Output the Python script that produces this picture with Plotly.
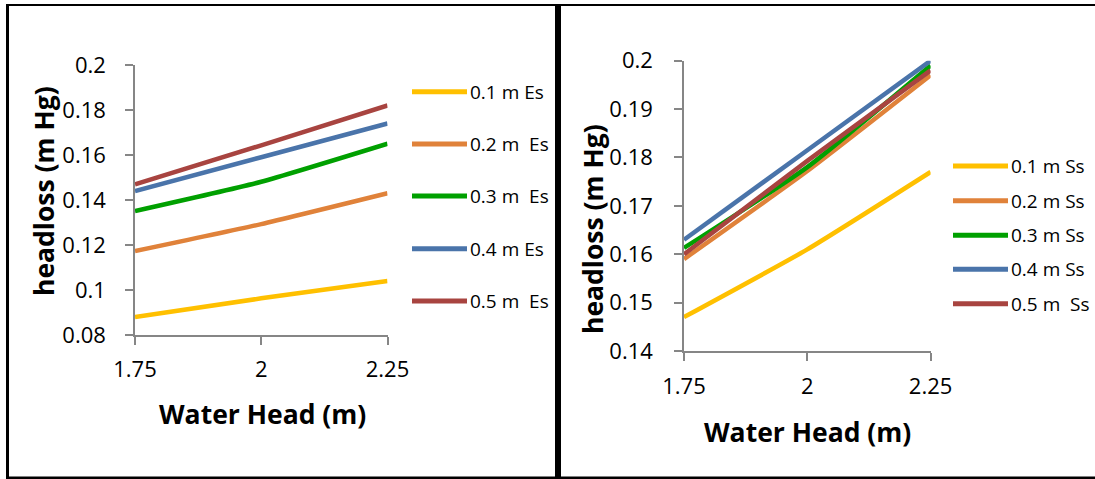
import plotly.graph_objects as go

# ---------------- data ----------------
water_head = [1.75, 2.0, 2.25]
x_tick_labels = ["1.75", "2", "2.25"]

es_names = ["0.1 m Es", "0.2 m  Es", "0.3 m  Es", "0.4 m Es", "0.5 m  Es"]
es_01 = [0.088, 0.0963, 0.104]
es_02 = [0.1173, 0.1293, 0.143]
es_03 = [0.1351, 0.1481, 0.165]
es_04 = [0.144, 0.159, 0.174]
es_05 = [0.147, 0.1643, 0.182]
es_series = [es_01, es_02, es_03, es_04, es_05]
es_y_ticks = [0.08, 0.10, 0.12, 0.14, 0.16, 0.18, 0.20]
es_y_tick_labels = ["0.08", "0.1", "0.12", "0.14", "0.16", "0.18", "0.2"]

ss_names = ["0.1 m Ss", "0.2 m Ss", "0.3 m Ss", "0.4 m Ss", "0.5 m  Ss"]
ss_01 = [0.147, 0.161, 0.177]
ss_02 = [0.159, 0.1772, 0.197]
ss_03 = [0.1613, 0.178, 0.199]
ss_04 = [0.163, 0.1815, 0.200]
ss_05 = [0.160, 0.1793, 0.198]
ss_series = [ss_01, ss_02, ss_03, ss_04, ss_05]
ss_y_ticks = [0.14, 0.15, 0.16, 0.17, 0.18, 0.19, 0.20]
ss_y_tick_labels = ["0.14", "0.15", "0.16", "0.17", "0.18", "0.19", "0.2"]

colors = ["#FFC000", "#E0823A", "#00A000", "#4A74AA", "#A84440"]

x_title = "Water Head (m)"
y_title = "headloss (m Hg)"

# ---------------- layout helpers ----------------
W, H = 1095, 479
FONT = "Open Sans"


def px(v):
    return v / W


def py(v):
    return 1 - v / H


fig = go.Figure()

for name, vals, col in zip(es_names, es_series, colors):
    fig.add_trace(go.Scatter(x=water_head, y=vals, name=name, mode="lines",
                             line=dict(color=col, width=4.5, shape="spline", smoothing=0.5),
                             xaxis="x", yaxis="y", showlegend=False, hoverinfo="skip"))
for name, vals, col in zip(ss_names, ss_series, colors):
    fig.add_trace(go.Scatter(x=water_head, y=vals, name=name, mode="lines",
                             line=dict(color=col, width=4.5, shape="spline", smoothing=0.5),
                             xaxis="x2", yaxis="y2", showlegend=False, hoverinfo="skip"))

axis_common = dict(showgrid=False, zeroline=False, showline=True, linecolor="#868686",
                   linewidth=1.5, ticks="outside", ticklen=8, tickcolor="#868686",
                   tickwidth=1.5, automargin=False, fixedrange=True,
                   tickfont=dict(family=FONT, size=22, color="black"))

fig.update_layout(
    template="none",
    width=W, height=H, autosize=False,
    margin=dict(l=0, r=0, t=0, b=0, pad=0, autoexpand=False),
    paper_bgcolor="white", plot_bgcolor="white",
    showlegend=False,
    xaxis=dict(domain=[px(135), px(387.5)], range=[1.75, 2.25], tickvals=water_head,
               ticktext=x_tick_labels, anchor="y", ticklabelstandoff=6, **axis_common),
    yaxis=dict(domain=[py(335), py(65)], range=[0.08, 0.2], tickvals=es_y_ticks,
               ticktext=es_y_tick_labels, anchor="x", ticklabelstandoff=15, **axis_common),
    xaxis2=dict(domain=[px(684), px(930.6)], range=[1.75, 2.25], tickvals=water_head,
                ticktext=x_tick_labels, anchor="y2", ticklabelstandoff=7, **axis_common),
    yaxis2=dict(domain=[py(351), py(60.7)], range=[0.14, 0.2], tickvals=ss_y_ticks,
                ticktext=ss_y_tick_labels, anchor="x2", ticklabelstandoff=17, **axis_common),
)

annotations = []
shapes = []

title_font = dict(family=FONT, size=26.5, color="black")
# axis titles
annotations.append(dict(text="<b>%s</b>" % x_title, x=px(262), y=py(414), xref="paper", yref="paper",
                        xanchor="center", yanchor="middle", showarrow=False, font=title_font))
annotations.append(dict(text="<b>%s</b>" % x_title, x=px(807), y=py(432), xref="paper", yref="paper",
                        xanchor="center", yanchor="middle", showarrow=False, font=title_font))
annotations.append(dict(text="<b>%s</b>" % y_title, x=px(44), y=py(191), xref="paper", yref="paper",
                        xanchor="center", yanchor="middle", showarrow=False, font=title_font,
                        textangle=-90))
annotations.append(dict(text="<b>%s</b>" % y_title, x=px(593), y=py(229), xref="paper", yref="paper",
                        xanchor="center", yanchor="middle", showarrow=False, font=title_font,
                        textangle=-90))

# legends
leg_font = dict(family=FONT, size=19, color="black")
left_leg_y = [91.7, 144, 196, 248.7, 301]
right_leg_y = [166, 200.7, 235.3, 269.3, 303.7]
for name, col, yy in zip(es_names, colors, left_leg_y):
    shapes.append(dict(type="line", xref="paper", yref="paper", x0=px(412), x1=px(467),
                       y0=py(yy), y1=py(yy), line=dict(color=col, width=5)))
    annotations.append(dict(text=name.replace(" ", "\u00a0"), x=px(468), y=py(yy), xref="paper",
                            yref="paper", xanchor="left", yanchor="middle", showarrow=False,
                            font=leg_font))
for name, col, yy in zip(ss_names, colors, right_leg_y):
    shapes.append(dict(type="line", xref="paper", yref="paper", x0=px(953), x1=px(1008),
                       y0=py(yy), y1=py(yy), line=dict(color=col, width=5)))
    annotations.append(dict(text=name.replace(" ", "\u00a0"), x=px(1009), y=py(yy), xref="paper",
                            yref="paper", xanchor="left", yanchor="middle", showarrow=False,
                            font=leg_font))

# frame lines
shapes.append(dict(type="line", xref="paper", yref="paper", x0=px(6), x1=1, y0=py(5), y1=py(5),
                   line=dict(color="black", width=2)))
shapes.append(dict(type="line", xref="paper", yref="paper", x0=px(6), x1=1, y0=py(477.8), y1=py(477.8),
                   line=dict(color="black", width=2.5)))
shapes.append(dict(type="line", xref="paper", yref="paper", x0=px(7.5), x1=px(7.5), y0=py(4), y1=py(479),
                   line=dict(color="black", width=3)))
shapes.append(dict(type="line", xref="paper", yref="paper", x0=px(558), x1=px(558), y0=py(4), y1=py(479),
                   line=dict(color="black", width=6)))

fig.update_layout(annotations=annotations, shapes=shapes)

fig.write_html("out.html", config={"displayModeBar": False, "responsive": False})
